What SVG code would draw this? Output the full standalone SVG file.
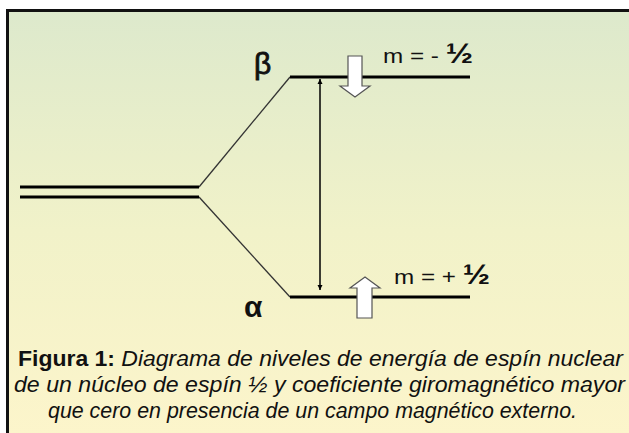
<svg xmlns="http://www.w3.org/2000/svg" width="629" height="433" viewBox="0 0 629 433">
  <defs>
    <linearGradient id="bg" x1="0" y1="0" x2="0" y2="1">
      <stop offset="0" stop-color="#dde9cc"/>
      <stop offset="0.5" stop-color="#f1f2c9"/>
      <stop offset="1" stop-color="#fdf5cb"/>
    </linearGradient>
    <marker id="ah" viewBox="0 0 10 10" refX="10" refY="5" markerWidth="5" markerHeight="6" markerUnits="userSpaceOnUse" orient="auto-start-reverse">
      <path d="M0,0 L10,5 L0,10 z" fill="#000"/>
    </marker>
    <style>
      .level{stroke:#000;stroke-width:3.2;fill:none}
      .diag{stroke:#333;stroke-width:1.3;fill:none}
      .spin{fill:#fff;stroke:#555;stroke-width:1.2}
      .lbl{font-family:"Liberation Sans",Arial,sans-serif;fill:#111}
      .cap{font-family:"Liberation Sans",Arial,sans-serif;font-size:22px;fill:#111;font-style:italic}
    </style>
  </defs>
  <rect x="0" y="0" width="629" height="433" fill="#fff"/>
  <rect x="7.5" y="10.5" width="640" height="440" fill="url(#bg)" stroke="#111" stroke-width="3"/>

  <g id="connectors">
    <path class="diag" d="M199,187 L290,77"/>
    <path class="diag" d="M199,197 L290,297"/>
    <line x1="320" y1="290" x2="320" y2="79" stroke="#000" stroke-width="1.5" marker-end="url(#ah)" marker-start="url(#ah)"/>
  </g>

  <g id="degenerate">
    <line class="level" x1="20" y1="187" x2="199" y2="187"/>
    <line class="level" x1="20" y1="197" x2="199" y2="197"/>
  </g>

  <g id="beta">
    <line class="level" x1="290" y1="77" x2="470" y2="77"/>
    <text class="lbl" x="254" y="74" font-size="30" stroke="#111" stroke-width="0.8">β</text>
    <polygon class="spin" points="348,56 362,56 362,86 370,86 355,97 340,86 348,86"/>
    <text class="lbl" x="383" y="63" font-size="20" textLength="90" lengthAdjust="spacingAndGlyphs">m = - <tspan font-weight="bold" font-size="27">½</tspan></text>
  </g>

  <g id="alpha">
    <line class="level" x1="290" y1="297" x2="470" y2="297"/>
    <text class="lbl" x="244" y="317" font-size="30" font-weight="bold">α</text>
    <polygon class="spin" points="365,277 380,288 372,288 372,318 357,318 357,288 350,288"/>
    <text class="lbl" x="394" y="284" font-size="20" textLength="96" lengthAdjust="spacingAndGlyphs">m = + <tspan font-weight="bold" font-size="27">½</tspan></text>
  </g>

  <g id="caption">
    <text class="cap" x="18" y="366" textLength="605" lengthAdjust="spacingAndGlyphs"><tspan font-weight="bold" font-style="normal">Figura 1:</tspan> Diagrama de niveles de energía de espín nuclear</text>
    <text class="cap" x="14" y="392" textLength="611" lengthAdjust="spacingAndGlyphs">de un núcleo de espín ½  y coeficiente giromagnético mayor</text>
    <text class="cap" x="48" y="418" textLength="529" lengthAdjust="spacingAndGlyphs">que cero en presencia de un campo magnético externo.</text>
  </g>
</svg>
